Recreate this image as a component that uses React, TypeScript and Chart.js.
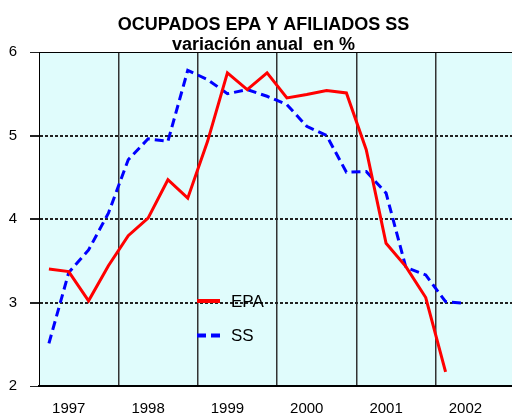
import React, { useEffect, useRef } from "react";
import { Chart, registerables } from "chart.js";

Chart.register(...registerables);

const titleLines = ["OCUPADOS EPA Y AFILIADOS SS", "variación anual  en %"];
const years = ["1997", "1998", "1999", "2000", "2001", "2002"];
const seriesNames = ["EPA", "SS"];
// quarterly values, starting 1997 Q1
const epaValues = [
  3.40, 3.37, 3.02, 3.44,
  3.80, 4.01, 4.47, 4.25,
  4.93, 5.75, 5.55, 5.75,
  5.45, 5.49, 5.54, 5.51,
  4.83, 3.71, 3.43, 3.06,
  2.17,
];
const ssValues = [
  2.51, 3.36, 3.63, 4.07,
  4.71, 4.96, 4.93, 5.78,
  5.67, 5.50, 5.55, 5.47,
  5.37, 5.11, 5.00, 4.56,
  4.57, 4.31, 3.42, 3.33,
  3.01, 2.99,
];
const yTicks = [2, 3, 4, 5, 6];

const FONT = '"Liberation Sans", Arial, sans-serif';

const toPoints = (vals: number[]) => vals.map((v, i) => ({ x: i + 0.5, y: v }));

export default function App() {
  const ref = useRef<HTMLCanvasElement | null>(null);

  useEffect(() => {
    document.body.style.margin = "0";
    const canvas = ref.current;
    if (!canvas) return;

    const bgPlugin = {
      id: "plotBg",
      beforeDraw(chart: any) {
        const { ctx, chartArea } = chart;
        ctx.save();
        ctx.fillStyle = "#e0fcfc";
        ctx.fillRect(chartArea.left, chartArea.top, chartArea.right - chartArea.left, chartArea.bottom - chartArea.top);
        ctx.restore();
      },
    };

    const titlePlugin = {
      id: "twoLineTitle",
      afterDraw(chart: any) {
        const { ctx } = chart;
        ctx.save();
        ctx.fillStyle = "#000";
        ctx.font = `bold 18px ${FONT}`;
        ctx.textAlign = "center";
        ctx.textBaseline = "alphabetic";
        ctx.fillText(titleLines[0], 263.5, 30);
        ctx.fillText(titleLines[1], 263.5, 50);
        ctx.restore();
      },
    };

    const legendPlugin = {
      id: "innerLegend",
      afterDatasetsDraw(chart: any) {
        const { ctx } = chart;
        ctx.save();
        chart.data.datasets.forEach((ds: any, i: number) => {
          const y = 301 + i * 34.5;
          ctx.strokeStyle = ds.borderColor;
          ctx.lineWidth = 4;
          ctx.setLineDash(ds.borderDash || []);
          ctx.beginPath();
          ctx.moveTo(197, y);
          ctx.lineTo(220, y);
          ctx.stroke();
          ctx.setLineDash([]);
          ctx.fillStyle = "#000";
          ctx.font = `17px ${FONT}`;
          ctx.textAlign = "left";
          ctx.textBaseline = "middle";
          ctx.fillText(ds.label, 231, y + 1);
        });
        ctx.restore();
      },
    };

    const isLabelTick = (v: number) => Math.abs(((v - 1.5) % 4 + 4) % 4) < 1e-6;

    const chart = new Chart(canvas, {
      type: "line",
      data: {
        datasets: [
          {
            label: seriesNames[0],
            data: toPoints(epaValues),
            borderColor: "#ff0000",
            borderWidth: 3,
            pointRadius: 0,
            tension: 0,
          },
          {
            label: seriesNames[1],
            data: toPoints(ssValues),
            borderColor: "#0000ff",
            borderWidth: 3,
            borderDash: [9, 5],
            pointRadius: 0,
            tension: 0,
          },
        ],
      },
      options: {
        responsive: false,
        animation: false,
        layout: { padding: { top: 52, right: 0, left: 0, bottom: 0 } },
        plugins: {
          legend: { display: false },
          title: { display: false },
          tooltip: { enabled: false },
        },
        scales: {
          x: {
            type: "linear",
            min: 0,
            max: 23.85,
            afterBuildTicks(scale: any) {
              const t = [];
              for (let k = 0; k < years.length; k++) {
                t.push({ value: 1.5 + 4 * k });
                if (k < years.length - 1) t.push({ value: 4 * (k + 1) });
              }
              scale.ticks = t;
            },
            afterFit(scale: any) {
              scale.height = 30;
            },
            ticks: {
              autoSkip: false,
              maxRotation: 0,
              padding: 14,
              color: "#000",
              font: { family: FONT, size: 15 },
              callback: (v: any) => (isLabelTick(Number(v)) ? years[Math.round((Number(v) - 1.5) / 4)] : ""),
            },
            grid: {
              drawTicks: false,
              color: (ctx: any) => (ctx.tick && ctx.tick.value % 4 === 0 ? "#333" : "rgba(0,0,0,0)"),
              lineWidth: 1.5,
            },
            border: { display: true, color: "#000", width: 2 },
          },
          y: {
            min: 2,
            max: 6,
            afterBuildTicks(scale: any) {
              scale.ticks = yTicks.map((v) => ({ value: v }));
            },
            afterFit(scale: any) {
              scale.width = 39;
            },
            ticks: {
              padding: 13,
              color: "#000",
              font: { family: FONT, size: 15 },
              callback: (v: any) => String(v),
            },
            grid: {
              drawTicks: true,
              tickLength: 9,
              color: (ctx: any) => {
                const v = ctx.tick ? ctx.tick.value : 0;
                return v === 6 || v === 2 ? "#000" : "#222";
              },
              tickColor: "#222",
              lineWidth: (ctx: any) => {
                const v = ctx.tick ? ctx.tick.value : 0;
                return v === 6 || v === 2 ? 1 : 2;
              },
            },
            border: {
              display: true,
              color: "#000",
              width: 1,
              dash: (ctx: any) => {
                const v = ctx.tick ? ctx.tick.value : 0;
                return v === 6 || v === 2 ? [] : [3, 2];
              },
            },
          },
        },
      },
      plugins: [bgPlugin, titlePlugin, legendPlugin],
    } as any);

    return () => chart.destroy();
  }, []);

  return (
    <div style={{ width: 512, height: 416 }}>
      <canvas ref={ref} width={512} height={416} style={{ display: "block" }} />
    </div>
  );
}
